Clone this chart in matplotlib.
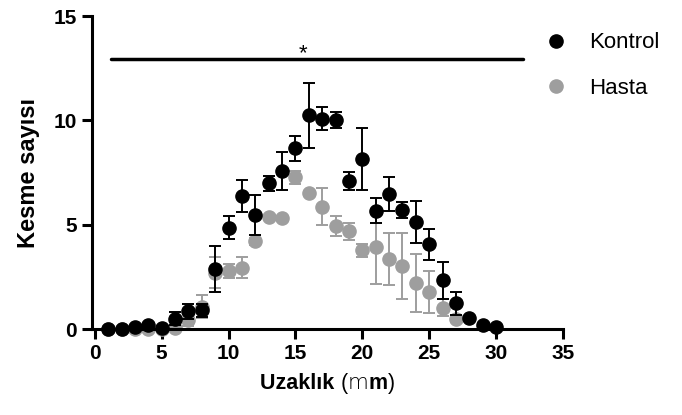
import numpy as np
import matplotlib
matplotlib.use('Agg')
from matplotlib import pyplot as plt
from matplotlib.lines import Line2D
from matplotlib.offsetbox import TextArea, HPacker, AnchoredOffsetbox

plt.rcParams['font.family'] = ['Liberation Sans', 'DejaVu Sans']

# distance positions
uzaklik_kontrol = list(range(1, 31))
uzaklik_hasta = list(range(1, 28))

# Kontrol group: mean and error
kontrol = [0.0, 0.0, 0.1, 0.2, 0.05, 0.5, 0.85, 0.9, 2.88, 4.85,
           6.38, 5.47, 7.0, 7.57, 8.67, 10.24, 10.08, 10.03, 7.1, 8.15,
           5.68, 6.47, 5.69, 5.12, 4.07, 2.34, 1.23, 0.54, 0.19, 0.11]
kontrol_err = [0.0, 0.0, 0.0, 0.0, 0.0, 0.3, 0.35, 0.3, 1.1, 0.55,
               0.77, 0.97, 0.36, 0.9, 0.6, 1.57, 0.55, 0.38, 0.45, 1.47,
               0.6, 0.82, 0.38, 1.0, 0.75, 0.88, 0.57, 0.0, 0.0, 0.0]

# Hasta group: mean and error
hasta = [0.0, 0.0, 0.0, 0.0, 0.0, 0.05, 0.43, 1.07, 2.7, 2.78,
         2.95, 4.2, 5.39, 5.31, 7.27, 6.54, 5.87, 4.94, 4.69, 3.78,
         3.94, 3.38, 3.03, 2.22, 1.79, 1.02, 0.46]
hasta_err = [0.0, 0.0, 0.0, 0.0, 0.0, 0.1, 0.3, 0.55, 0.75, 0.33,
             0.5, 0.15, 0.1, 0.1, 0.3, 0.1, 0.9, 0.5, 0.4, 0.32,
             1.8, 1.25, 1.6, 1.4, 1.0, 0.4, 0.1]

labels = ['Kontrol', 'Hasta']
colors = ['black', '#9e9e9e']

fig = plt.figure(figsize=(6.82, 4.15), dpi=100, facecolor='w')
ax = fig.add_axes([0.135, 0.207, 0.6905, 0.754])

ax.errorbar(uzaklik_hasta, hasta, yerr=hasta_err, fmt='o', color=colors[1],
            markersize=9.5, capsize=4.5, elinewidth=1.4, capthick=1.4,
            zorder=2, clip_on=False)
ax.errorbar(uzaklik_kontrol, kontrol, yerr=kontrol_err, fmt='o', color=colors[0],
            markersize=9.5, capsize=4.5, elinewidth=1.4, capthick=1.4,
            zorder=3, clip_on=False)

# significance bar
ax.plot([1.2, 32.0], [12.95, 12.95], color='black', lw=2.5, solid_capstyle='round',
        clip_on=False)
ax.text(15.6, 12.7, '*', ha='center', va='bottom', fontsize=16)

ax.set_xlim(-0.2, 35)
ax.set_ylim(0, 15)
ax.set_xticks(np.arange(0, 36, 5))
ax.set_yticks([0, 5, 10, 15])
for sp in ['top', 'right']:
    ax.spines[sp].set_visible(False)
for sp in ['left', 'bottom']:
    ax.spines[sp].set_linewidth(2.2)
ax.tick_params(width=2.2, length=7, labelsize=15, pad=4)
for lab in ax.get_xticklabels() + ax.get_yticklabels():
    lab.set_fontweight('bold')

ax.set_ylabel('Kesme sayısı', fontsize=17, fontweight='bold', labelpad=10)

# x label with mixed weights
fs = 15.5
parts = [TextArea('Uzaklık ', textprops=dict(fontsize=fs, fontweight='bold')),
         TextArea('(', textprops=dict(fontsize=fs)),
         TextArea('m', textprops=dict(fontsize=fs, fontweight='light', family='DejaVu Sans')),
         TextArea('m', textprops=dict(fontsize=fs, fontweight='bold')),
         TextArea(')', textprops=dict(fontsize=fs))]
box = HPacker(children=parts, align='baseline', pad=0, sep=0)
anch = AnchoredOffsetbox(loc='center', child=box, frameon=False,
                         bbox_to_anchor=(0.5, -0.175), bbox_transform=ax.transAxes,
                         borderpad=0, pad=0)
ax.add_artist(anch)

handles = [Line2D([], [], ls='none', marker='o', markersize=9.5, color=c) for c in colors]
leg = ax.legend(handles, labels, loc='upper left',
                bbox_to_anchor=(0.943, 0.984), frameon=False, fontsize=16,
                handletextpad=1.1, labelspacing=1.1, borderpad=0,
                handlelength=0.8)

fig.savefig('out.png', dpi=100)
plt.close(fig)
